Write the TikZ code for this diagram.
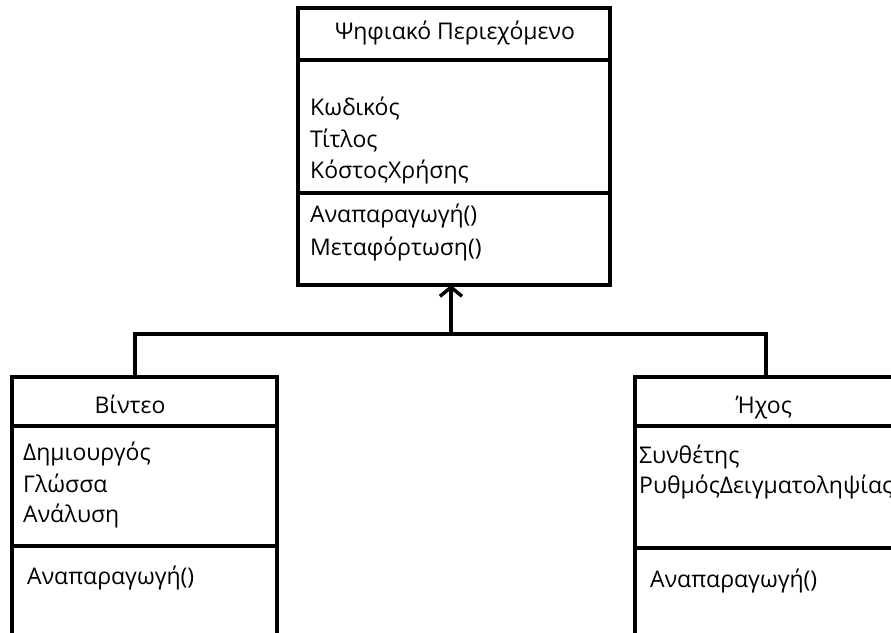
\documentclass[tikz,border=0pt]{standalone}
\usepackage{fontspec}
\setmainfont{Open Sans}
\usetikzlibrary{arrows.meta}
\begin{document}
\begin{tikzpicture}[x=1pt,y=-1pt,
  box/.style={draw=black,line width=3.5pt,rectangle,inner sep=0pt,outer sep=0pt},
  sep/.style={line width=3.5pt},
  conn/.style={line width=3.5pt},
  txt/.style={inner sep=0pt,anchor=base west,font=\fontsize{23}{27}\selectfont},
  ctxt/.style={inner sep=0pt,anchor=base,font=\fontsize{23}{27}\selectfont}]
\useasboundingbox (0,0) rectangle (891,632);
\clip (0,0) rectangle (891,632);
\fill[white] (0,0) rectangle (891,632);
% top class
\node[box,minimum width=312pt,minimum height=277pt] (top) at (454,146.5) {};
\draw[sep] (top.west |- 0,60) -- (top.east |- 0,60);
\draw[sep] (top.west |- 0,193) -- (top.east |- 0,193);
\node[ctxt] (topname) at (455,39) {Ψηφιακό Περιεχόμενο};
\node[txt] (a1) at (310,115) {Κωδικός};
\node[txt] (a2) at (310,147) {Τίτλος};
\node[txt] (a3) at (310,178) {ΚόστοςΧρήσης};
\node[txt] (o1) at (310,222) {Αναπαραγωγή()};
\node[txt] (o2) at (310,255) {Μεταφόρτωση()};
% left class
\node[box,minimum width=265pt,minimum height=300pt] (vid) at (144.5,527) {};
\draw[sep] (vid.west |- 0,426) -- (vid.east |- 0,426);
\draw[sep] (vid.west |- 0,546) -- (vid.east |- 0,546);
\node[ctxt] (vidname) at (130,413) {Βίντεο};
\node[txt] (v1) at (23,460) {Δημιουργός};
\node[txt] (v2) at (23,492) {Γλώσσα};
\node[txt] (v3) at (23,522) {Ανάλυση};
\node[txt] (v4) at (27,584) {Αναπαραγωγή()};
% right class
\node[box,minimum width=300pt,minimum height=300pt] (snd) at (785,527) {};
\draw[sep] (snd.west |- 0,426) -- (snd.east |- 0,426);
\draw[sep] (snd.west |- 0,548) -- (snd.east |- 0,548);
\node[ctxt] (sndname) at (764,413) {Ήχος};
\node[txt] (s1) at (639,463) {Συνθέτης};
\node[txt] (s2) at (639,493) {ΡυθμόςΔειγματοληψίας};
\node[txt] (s3) at (650,587) {Αναπαραγωγή()};
% connectors
\coordinate (j) at (451,334);
\coordinate (jl) at (135,334);
\coordinate (jr) at (766,334);
\draw[conn] (jl |- vid.north) -- (jl) -- (jr) -- (jr |- snd.north);
\draw[conn,-{Straight Barb[length=9pt,width=22pt,line width=3.5pt]}] (j) -- (j |- top.south);
\end{tikzpicture}
\end{document}
